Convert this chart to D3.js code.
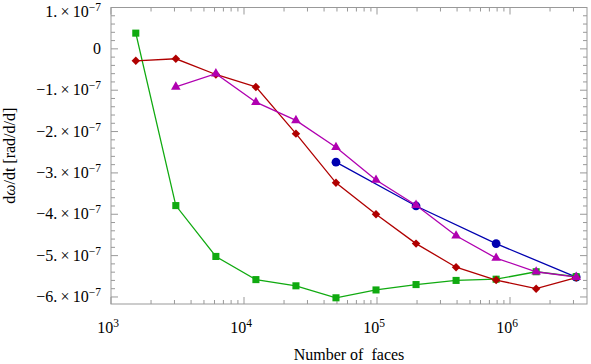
<!DOCTYPE html>
<html><head><meta charset="utf-8">
<script src="https://cdn.jsdelivr.net/npm/d3@7"></script>
<style>body{margin:0;background:#fff}svg{display:block}text{font-family:"Liberation Serif","DejaVu Serif",serif;fill:#000}</style>
</head><body><div id="c"></div>
<script>
const faces = [1536, 3072, 6144, 12288, 24576, 49152, 98304, 196608, 393216, 786432, 1572864, 3145728];
const greenVals = [0.38, -3.79, -5.02, -5.58, -5.73, -6.02, -5.83, -5.70, -5.60, -5.57, -5.39, -5.51];
const redVals = [-0.29, -0.24, -0.62, -0.92, -2.05, -3.24, -4.00, -4.71, -5.28, -5.59, -5.80, -5.53];
const magentaFaces = [3072, 6144, 12288, 24576, 49152, 98304, 196608, 393216, 786432, 1572864, 3145728];
const magentaVals = [-0.92, -0.60, -1.29, -1.73, -2.38, -3.17, -3.78, -4.52, -5.06, -5.39, -5.52];
const blueFaces = [49152, 196608, 786432, 3145728];
const blueVals = [-2.74, -3.80, -4.71, -5.52];
const yTickVals = [1, 0, -1, -2, -3, -4, -5, -6];
const xTickExps = [3, 4, 5, 6];

const W = 591, H = 364;
const L = 111, R = 587, T = 7.5, B = 304;
const svg = d3.select("#c").append("svg").attr("width", W).attr("height", H);
const x = d3.scaleLog().domain([1000, Math.pow(10, 3 + (R - L) / 133)]).range([L, R]);
const y = d3.scaleLinear().domain([-6.17, 1.0]).range([B, T]);

const frameCol = "#999";
svg.append("rect").attr("x", L).attr("y", T).attr("width", R - L).attr("height", B - T)
  .attr("fill", "none").attr("stroke", frameCol).attr("stroke-width", 1);

const g = svg.append("g");
const yMinor = d3.range(-6.0, 1.001, 0.2).map(v => +v.toFixed(1));
yMinor.forEach(v => {
  const isMaj = Math.abs(v - Math.round(v)) < 1e-6;
  const len = isMaj ? 7 : 4;
  const yy = y(v);
  g.append("line").attr("x1", L).attr("x2", L + len).attr("y1", yy).attr("y2", yy).attr("stroke", frameCol);
  g.append("line").attr("x1", R).attr("x2", R - len).attr("y1", yy).attr("y2", yy).attr("stroke", frameCol);
});
for (let e = 3; e <= 6; e++) {
  for (let m = 1; m <= 9; m++) {
    const v = m * Math.pow(10, e);
    if (v > x.domain()[1]) continue;
    const isMaj = m === 1;
    const len = isMaj ? 7 : 4;
    const xx = x(v);
    g.append("line").attr("x1", xx).attr("x2", xx).attr("y1", B).attr("y2", B - len).attr("stroke", frameCol);
    g.append("line").attr("x1", xx).attr("x2", xx).attr("y1", T).attr("y2", T + len).attr("stroke", frameCol);
  }
}
yTickVals.forEach(v => {
  const yy = Math.max(y(v) + 5, 17);
  const t = svg.append("text").attr("x", 101).attr("y", yy).attr("text-anchor", "end").attr("font-size", 16);
  if (v === 0) { t.text("0"); return; }
  const s = v < 0 ? "\u2212" : "";
  t.append("tspan").text(s + Math.abs(v) + ".\u2009\u00d7\u200910");
  t.append("tspan").attr("dy", -6).attr("font-size", 11.5).text("\u22127");
});
xTickExps.forEach(e => {
  const t = svg.append("text").attr("x", x(Math.pow(10, e)) - 3).attr("y", 333).attr("text-anchor", "middle").attr("font-size", 16);
  t.append("tspan").text("10");
  t.append("tspan").attr("dy", -6).attr("font-size", 11.5).text(e);
});
svg.append("text").attr("x", (L + R) / 2).attr("y", 360).attr("text-anchor", "middle").attr("font-size", 16)
  .attr("xml:space", "preserve").text("Number of\u2002faces");
const yt = svg.append("text").attr("transform", `translate(15,${(T + B) / 2}) rotate(-90)`).attr("text-anchor", "middle").attr("font-size", 16);
yt.append("tspan").text("d");
yt.append("tspan").attr("font-style", "italic").text("\u03c9");
yt.append("tspan").text("/dt [rad/d/d]");

const line = d3.line().x(d => x(d[0])).y(d => y(d[1]));
function series(xs, ys, col, shape, size, rot) {
  const data = xs.map((f, i) => [f, ys[i]]);
  svg.append("path").datum(data).attr("d", line).attr("fill", "none").attr("stroke", col).attr("stroke-width", 1.3);
  svg.selectAll(null).data(data).enter().append("path")
    .attr("transform", d => `translate(${x(d[0])},${y(d[1])}) rotate(${rot || 0})`)
    .attr("d", d3.symbol().type(shape).size(size)).attr("fill", col);
}
series(blueFaces, blueVals, "#0000b0", d3.symbolCircle, 60);
series(faces, greenVals, "#10aa10", d3.symbolSquare, 50);
series(faces, redVals, "#b00000", d3.symbolSquare, 36, 45);
series(magentaFaces, magentaVals, "#b000b0", d3.symbolTriangle, 40);
</script></body></html>
